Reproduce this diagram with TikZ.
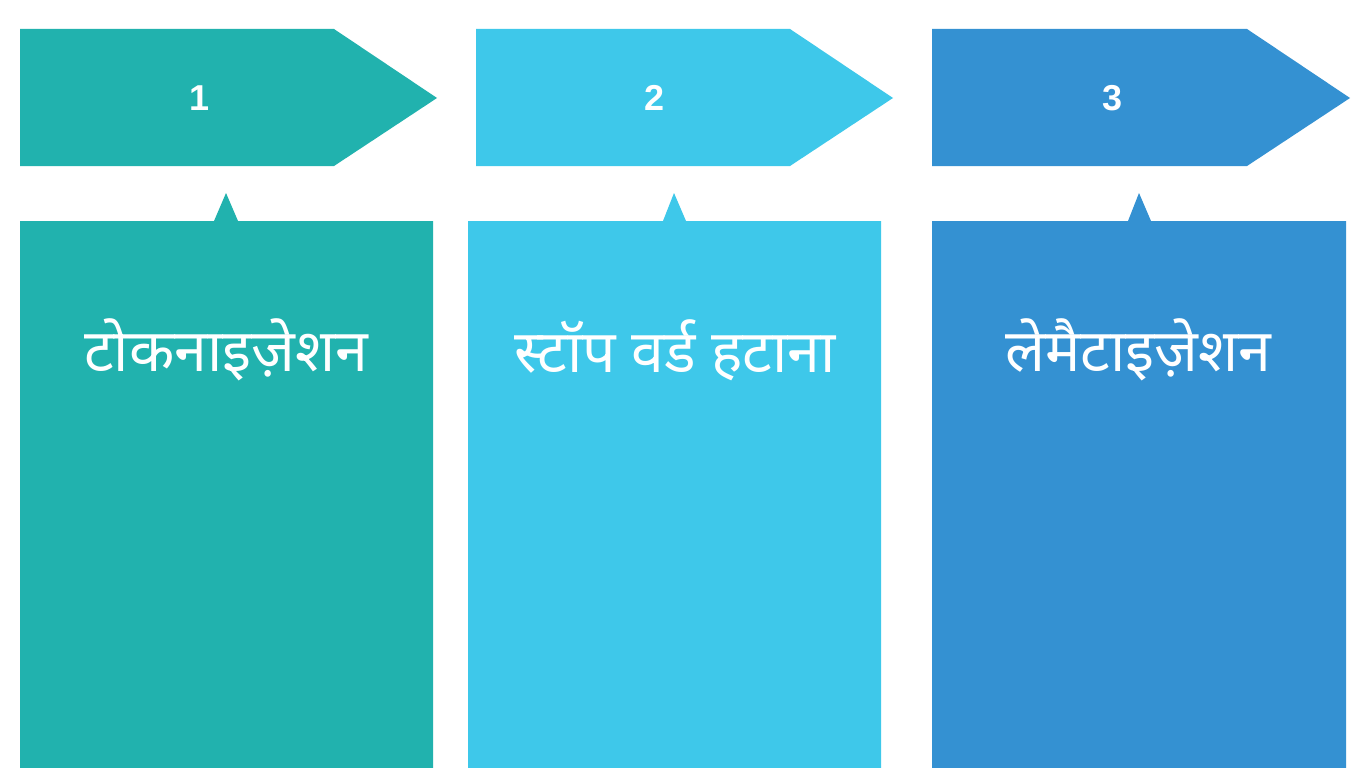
\documentclass[tikz,border=0pt]{standalone}
\usepackage{fontspec}
\setmainfont{Liberation Sans}
\newfontfamily\deva[Script=Devanagari]{Noto Sans}
\definecolor{cA}{RGB}{33,178,174}
\definecolor{cB}{RGB}{62,200,234}
\definecolor{cC}{RGB}{52,145,210}
\begin{document}
\begin{tikzpicture}[x=1pt,y=-1pt,
  num/.style={text=white,font=\fontsize{36}{40}\selectfont\bfseries,inner sep=0pt},
  lbl/.style={text=white,font=\deva\fontsize{59}{64}\selectfont,inner sep=0pt}]
\useasboundingbox[fill=white] (0,0) rectangle (1371,768);
% step 1
\fill[cA] (20,29) -- (334,29) -- (437,98) -- (334,166) -- (20,166) -- cycle;
\fill[cA] (20,221) -- (214,221) -- (226,193) -- (238,221) -- (433,221) -- (433,768) -- (20,768) -- cycle;
\node[num] (n1) at (200,98) {1};
\node[lbl] (t1) at (226,350) {टोकनाइज़ेशन};
% step 2
\fill[cB] (476,29) -- (790,29) -- (893,98) -- (790,166) -- (476,166) -- cycle;
\fill[cB] (468,221) -- (663,221) -- (674,193) -- (686,221) -- (881,221) -- (881,768) -- (468,768) -- cycle;
\node[num] (n2) at (655,98) {2};
\node[lbl] (t2) at (675,350) {स्टॉप वर्ड हटाना};
% step 3
\fill[cC] (932,29) -- (1247,29) -- (1350,98) -- (1247,166) -- (932,166) -- cycle;
\fill[cC] (932,221) -- (1128,221) -- (1139,193) -- (1151,221) -- (1346,221) -- (1346,768) -- (932,768) -- cycle;
\node[num] (n3) at (1112,98) {3};
\node[lbl] (t3) at (1138,350) {लेमैटाइज़ेशन};
\end{tikzpicture}
\end{document}
